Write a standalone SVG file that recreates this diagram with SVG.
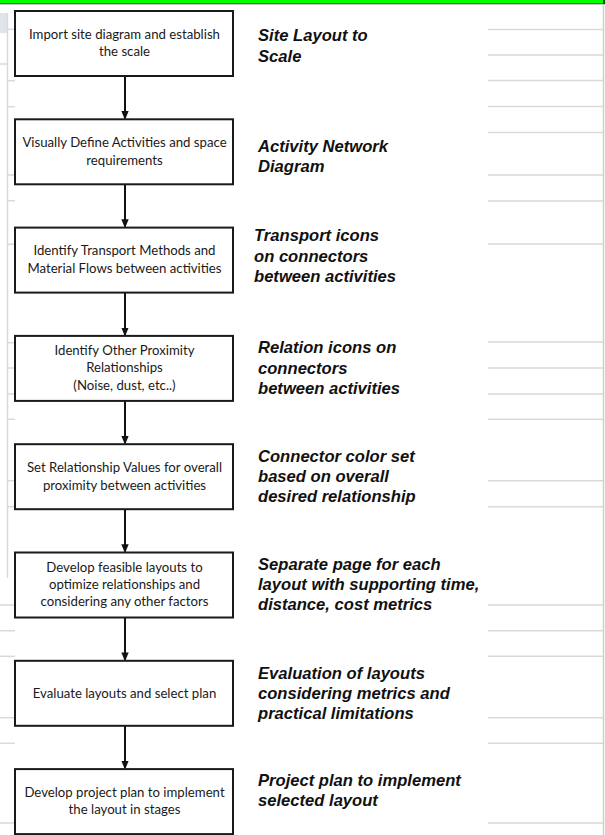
<svg xmlns="http://www.w3.org/2000/svg" width="605" height="835" viewBox="0 0 605 835">
  <defs>
    <style>
      .grid { stroke: #d9d9d9; stroke-width: 1.5; fill: none; }
      .box { fill: #ffffff; stroke: #1a1a1a; stroke-width: 2; }
      .btxt { font-family: Lato, "Open Sans", sans-serif; font-size: 13.2px; fill: #1a1a1a; text-anchor: middle; }
      .lbl { font-family: "Liberation Sans", Arial, sans-serif; font-size: 16.6px; font-weight: bold; font-style: italic; fill: #111111; }
      .conn { stroke: #111111; stroke-width: 2; fill: none; }
    </style>
    <marker id="arrow" markerWidth="9" markerHeight="11" refX="9" refY="4.5" orient="auto" markerUnits="userSpaceOnUse" viewBox="0 0 11 9">
      <path d="M0,0 L11,4.5 L0,9 z" fill="#111111"/>
    </marker>
  </defs>

  <rect x="0" y="0" width="605" height="835" fill="#ffffff"/>

  <!-- background spreadsheet gridlines -->
  <g id="background">
    <rect x="0" y="0" width="605" height="3.5" fill="#00ff00"/>
    <line x1="0" y1="3.8" x2="605" y2="3.8" stroke="#333333" stroke-width="1"/>
    <line x1="604" y1="0" x2="604" y2="4" stroke="#111111" stroke-width="1.5"/>
    <line x1="603.5" y1="4" x2="603.5" y2="835" stroke="#cfcfcf" stroke-width="1.5"/>
    <rect x="0" y="13" width="7" height="20" fill="#dfe4ea"/>
    <line class="grid" x1="7.5" y1="13" x2="7.5" y2="578"/>
    <g class="grid">
      <line x1="488" y1="29.5" x2="603" y2="29.5"/>
      <line x1="488" y1="55" x2="603" y2="55"/>
      <line x1="488" y1="80.5" x2="603" y2="80.5"/>
      <line x1="488" y1="106.5" x2="603" y2="106.5"/>
      <line x1="488" y1="132.5" x2="603" y2="132.5"/>
      <line x1="488" y1="175" x2="603" y2="175"/>
      <line x1="488" y1="201" x2="603" y2="201"/>
      <line x1="488" y1="244" x2="603" y2="244"/>
      <line x1="488" y1="342" x2="603" y2="342"/>
      <line x1="488" y1="368" x2="603" y2="368"/>
      <line x1="488" y1="394" x2="603" y2="394"/>
      <line x1="488" y1="419.3" x2="603" y2="419.3"/>
      <line x1="488" y1="480.7" x2="603" y2="480.7"/>
      <line x1="488" y1="506.7" x2="603" y2="506.7"/>
      <line x1="488" y1="605" x2="603" y2="605"/>
      <line x1="488" y1="630.7" x2="603" y2="630.7"/>
      <line x1="488" y1="656.3" x2="603" y2="656.3"/>
      <line x1="488" y1="717.7" x2="603" y2="717.7"/>
      <line x1="488" y1="743.3" x2="603" y2="743.3"/>
      <line x1="488" y1="823" x2="603" y2="823"/>

      <line x1="7" y1="29.3" x2="15" y2="29.3"/>
      <line x1="0" y1="64" x2="7" y2="64"/>
      <line x1="7" y1="80.7" x2="15" y2="80.7"/>
      <line x1="7" y1="106.7" x2="15" y2="106.7"/>
      <line x1="7" y1="175" x2="15" y2="175"/>
      <line x1="7" y1="200.7" x2="15" y2="200.7"/>
      <line x1="7" y1="244.3" x2="15" y2="244.3"/>
      <line x1="7" y1="342.7" x2="15" y2="342.7"/>
      <line x1="7" y1="368" x2="15" y2="368"/>
      <line x1="7" y1="394" x2="15" y2="394"/>
      <line x1="7" y1="419.3" x2="15" y2="419.3"/>
      <line x1="7" y1="480.7" x2="15" y2="480.7"/>
      <line x1="7" y1="506.7" x2="15" y2="506.7"/>
      <line x1="0" y1="605" x2="15" y2="605"/>
      <line x1="0" y1="630.7" x2="15" y2="630.7"/>
      <line x1="0" y1="656.3" x2="15" y2="656.3"/>
      <line x1="0" y1="717.7" x2="15" y2="717.7"/>
      <line x1="0" y1="743.3" x2="15" y2="743.3"/>
      <line x1="0" y1="823" x2="15" y2="823"/>
    </g>
  </g>

  <!-- connectors -->
  <g id="connectors">
    <line class="conn" x1="125" y1="76" x2="125" y2="118.3" marker-end="url(#arrow)"/>
    <line class="conn" x1="125" y1="184.3" x2="125" y2="226.6" marker-end="url(#arrow)"/>
    <line class="conn" x1="125" y1="292.6" x2="125" y2="334.9" marker-end="url(#arrow)"/>
    <line class="conn" x1="125" y1="400.9" x2="125" y2="443.2" marker-end="url(#arrow)"/>
    <line class="conn" x1="125" y1="509.2" x2="125" y2="551.5" marker-end="url(#arrow)"/>
    <line class="conn" x1="125" y1="617.5" x2="125" y2="659.8" marker-end="url(#arrow)"/>
    <line class="conn" x1="125" y1="725.8" x2="125" y2="768.1" marker-end="url(#arrow)"/>
  </g>

  <!-- nodes -->
  <g id="node1">
    <rect class="box" x="15" y="11" width="218" height="65"/>
    <text class="btxt" x="124.5" y="38.8">Import site diagram and establish</text>
    <text class="btxt" x="124.5" y="56.3">the scale</text>
  </g>
  <g id="node2">
    <rect class="box" x="15" y="119.3" width="218" height="65"/>
    <text class="btxt" x="124.5" y="147.1">Visually Define Activities and space</text>
    <text class="btxt" x="124.5" y="164.6">requirements</text>
  </g>
  <g id="node3">
    <rect class="box" x="15" y="227.6" width="218" height="65"/>
    <text class="btxt" x="124.5" y="255.4">Identify Transport Methods and</text>
    <text class="btxt" x="124.5" y="272.9">Material Flows between activities</text>
  </g>
  <g id="node4">
    <rect class="box" x="15" y="335.9" width="218" height="65"/>
    <text class="btxt" x="124.5" y="354.9">Identify Other Proximity</text>
    <text class="btxt" x="124.5" y="372.4">Relationships</text>
    <text class="btxt" x="124.5" y="389.9">(Noise, dust, etc..)</text>
  </g>
  <g id="node5">
    <rect class="box" x="15" y="444.2" width="218" height="65"/>
    <text class="btxt" x="124.5" y="472">Set Relationship Values for overall</text>
    <text class="btxt" x="124.5" y="489.5">proximity between activities</text>
  </g>
  <g id="node6">
    <rect class="box" x="15" y="552.5" width="218" height="65"/>
    <text class="btxt" x="124.5" y="571.8">Develop feasible layouts to</text>
    <text class="btxt" x="124.5" y="589">optimize relationships and</text>
    <text class="btxt" x="124.5" y="606.2">considering any other factors</text>
  </g>
  <g id="node7">
    <rect class="box" x="15" y="660.8" width="218" height="65"/>
    <text class="btxt" x="124.5" y="697.5">Evaluate layouts and select plan</text>
  </g>
  <g id="node8">
    <rect class="box" x="15" y="769.1" width="218" height="65"/>
    <text class="btxt" x="124.5" y="796.9">Develop project plan to implement</text>
    <text class="btxt" x="124.5" y="814.4">the layout in stages</text>
  </g>

  <!-- side labels -->
  <g id="label1">
    <text class="lbl" x="258" y="41.3">Site Layout to</text>
    <text class="lbl" x="258" y="61.7">Scale</text>
  </g>
  <g id="label2">
    <text class="lbl" x="258" y="151.7">Activity Network</text>
    <text class="lbl" x="258" y="171.7">Diagram</text>
  </g>
  <g id="label3">
    <text class="lbl" x="254" y="241">Transport icons</text>
    <text class="lbl" x="254" y="261.5">on connectors</text>
    <text class="lbl" x="254" y="282">between activities</text>
  </g>
  <g id="label4">
    <text class="lbl" x="258" y="353.3">Relation icons on</text>
    <text class="lbl" x="258" y="373.5">connectors</text>
    <text class="lbl" x="258" y="393.7">between activities</text>
  </g>
  <g id="label5">
    <text class="lbl" x="258" y="461.7">Connector color set</text>
    <text class="lbl" x="258" y="481.7">based on overall</text>
    <text class="lbl" x="258" y="501.7">desired relationship</text>
  </g>
  <g id="label6">
    <text class="lbl" x="258" y="570.3">Separate page for each</text>
    <text class="lbl" x="258" y="590.3">layout with supporting time,</text>
    <text class="lbl" x="258" y="610.3">distance, cost metrics</text>
  </g>
  <g id="label7">
    <text class="lbl" x="258" y="678.5">Evaluation of layouts</text>
    <text class="lbl" x="258" y="698.5">considering metrics and</text>
    <text class="lbl" x="258" y="718.5">practical limitations</text>
  </g>
  <g id="label8">
    <text class="lbl" x="258" y="786.3">Project plan to implement</text>
    <text class="lbl" x="258" y="806.3">selected layout</text>
  </g>
</svg>
